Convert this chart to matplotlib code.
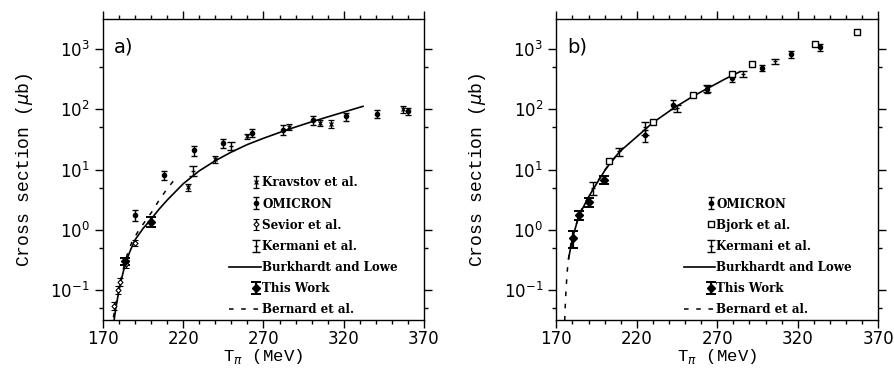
import numpy as np
import matplotlib
matplotlib.use("Agg")
import matplotlib.pyplot as plt
from matplotlib.ticker import FixedLocator, LogLocator, NullFormatter
from matplotlib.legend_handler import HandlerErrorbar
from matplotlib.container import ErrorbarContainer
from matplotlib.lines import Line2D

plt.rcParams.update({"font.size": 11, "axes.linewidth": 1.0})

# ---- panel a) data (T_pi in MeV, cross section in microbarn) ----
kravstov_a_x = [223, 240, 259.5, 286, 305, 312, 357]
kravstov_a_y = [5.1, 14.9, 36, 51, 59, 58, 100]
kravstov_a_err = [0.7, 2.0, 3.5, 5, 7, 9, 14]

omicron_a_x = [190, 208, 226.7, 245, 263, 282, 301, 321.4, 340.5, 360.2]
omicron_a_y = [1.76, 8.1, 21, 27.5, 40.5, 46, 66, 76, 84, 93]
omicron_a_err = [0.36, 1.5, 4, 5, 6, 8, 11, 12, 12, 14]

sevior_a_x = [177, 179.5, 180.5, 184.5, 190]
sevior_a_y = [0.055, 0.1, 0.135, 0.27, 0.6]
sevior_a_err = [0.008, 0.015, 0.02, 0.04, 0.07]

kermani_a_x = [226, 250]
kermani_a_y = [9.5, 24.8]
kermani_a_err = [1.8, 4.0]

thiswork_a_x = [184, 200]
thiswork_a_y = [0.30, 1.36]
thiswork_a_err = [0.045, 0.24]

burkhardt_a_x = [176.9, 178, 180, 182, 184, 187, 190, 195, 200, 205, 210, 220,
                 230, 240, 250, 260, 270, 285, 300, 315, 332]
burkhardt_a_y = [0.031, 0.05, 0.1, 0.17, 0.28, 0.45, 0.68, 1.05, 1.5, 2.2, 3.1, 5.8,
                 9.5, 14, 19.5, 26, 33, 46, 62, 82, 112]

bernard_a_x = [176.5, 179, 182, 185, 188, 192, 196, 200, 205, 210.5, 216.3]
bernard_a_y = [0.035, 0.08, 0.19, 0.38, 0.62, 0.95, 1.35, 1.9, 3.1, 5.0, 7.7]

# ---- panel b) data ----
omicron_b_x = [225, 242.7, 263.4, 279, 297.6, 315.6, 333.8]
omicron_b_y = [37, 120, 215, 325, 490, 815, 1070]
omicron_b_err = [8, 20, 30, 45, 60, 100, 130]

bjork_b_x = [202.9, 229.9, 254.7, 278.9, 291.7, 330.7, 356.6]
bjork_b_y = [13.8, 61, 170, 390, 570, 1230, 1950]

kermani_b_x = [193, 208.7, 225, 244.8, 263.4, 285.8, 305.8]
kermani_b_y = [4.9, 20, 50, 105, 225, 390, 630]
kermani_b_err = [1.2, 3, 12, 15, 30, 50, 60]

thiswork_b_x = [180.2, 183.9, 190.1, 199.8]
thiswork_b_y = [0.72, 1.76, 2.9, 6.7]
thiswork_b_err = [0.22, 0.3, 0.5, 1.0]

burkhardt_b_x = [177.6, 180, 184, 190, 195, 200, 205, 210, 220, 230, 243, 255,
                 265, 275, 284]
burkhardt_b_y = [0.33, 0.72, 1.7, 3.5, 5.8, 9.5, 14.5, 20.5, 35, 60, 105, 165,
                 230, 320, 420]

bernard_b_x = [175.2, 175.6, 176.2, 177, 178, 180, 185, 190, 200, 211.6]
bernard_b_y = [0.031, 0.06, 0.12, 0.24, 0.4, 0.8, 2.0, 3.6, 9.8, 23]

x_ticks = [170, 220, 270, 320, 370]


class RightErrorbar(HandlerErrorbar):
    """Put the error bar symbol at the right end of the handle box."""

    def get_xdata(self, legend, xdescent, ydescent, width, height, fontsize):
        xdata, _ = super().get_xdata(legend, xdescent, ydescent, width, height, fontsize)
        return xdata, [-xdescent + width - 0.35 * fontsize]


def eb(ax, x, y, err, **kw):
    style = dict(color="black", ecolor="black", linestyle="none", elinewidth=1.0,
                 capsize=2.2, capthick=1.0)
    style.update(kw)
    return ax.errorbar(x, y, yerr=err, **style)


def style_axes(ax, tag):
    ax.set_yscale("log")
    ax.set_xlim(170, 370)
    ax.set_ylim(10 ** -1.5, 10 ** 3.5)
    ax.xaxis.set_major_locator(FixedLocator(x_ticks))
    ax.xaxis.set_minor_locator(FixedLocator(np.arange(170, 371, 10)))
    ax.yaxis.set_major_locator(FixedLocator([0.1, 1, 10, 100, 1000]))
    ax.yaxis.set_minor_locator(LogLocator(base=10, subs=[5.0]))
    ax.yaxis.set_minor_formatter(NullFormatter())
    ax.tick_params(which="both", direction="out", top=True, right=True,
                   labelsize=12, width=1.0)
    ax.tick_params(which="major", length=6)
    ax.tick_params(which="minor", length=3)
    ax.tick_params(axis="x", pad=1.5)
    ax.set_xlabel(r"T$_\pi$ (MeV)", family="Liberation Mono", fontsize=12.5,
                  labelpad=-1)
    ax.set_ylabel(r"Cross section ($\mu$b)", family="Liberation Mono", fontsize=13,
                  labelpad=11)
    ax.text(0.035, 0.94, tag, transform=ax.transAxes, fontsize=14, va="top")


fig = plt.figure(figsize=(8.94, 3.68), dpi=100)
ax_a = fig.add_axes([0.1152, 0.1304, 0.359, 0.818])
ax_b = fig.add_axes([0.6223, 0.1304, 0.360, 0.818])

# panel a
h_kr = eb(ax_a, kravstov_a_x, kravstov_a_y, kravstov_a_err, marker="x", ms=3, mew=0.9)
h_om = eb(ax_a, omicron_a_x, omicron_a_y, omicron_a_err, marker="o", ms=3)
h_se = eb(ax_a, sevior_a_x, sevior_a_y, sevior_a_err, marker="D", ms=2.6, mfc="white",
          mew=0.8)
h_ke = eb(ax_a, kermani_a_x, kermani_a_y, kermani_a_err, marker="_", ms=3, mew=1.0,
          capsize=3)
ax_a.plot(burkhardt_a_x, burkhardt_a_y, color="black", lw=1.2)
h_tw = eb(ax_a, thiswork_a_x, thiswork_a_y, thiswork_a_err, marker="D", ms=4,
          elinewidth=1.6, capthick=1.4, capsize=3.5)
ax_a.plot(bernard_a_x, bernard_a_y, color="black", lw=1.1, linestyle=(0, (3, 5)))

line_bl = Line2D([], [], color="black", lw=1.2)
line_be = Line2D([], [], color="black", lw=1.1, linestyle=(0, (3, 5)))

leg_kw = dict(frameon=False, handlelength=2.6, handletextpad=0.15,
              labelspacing=0.68, borderaxespad=0.3,
              prop={"family": "DejaVu Serif", "weight": "bold", "size": 8.6},
              handler_map={ErrorbarContainer: RightErrorbar(numpoints=1)})

ax_a.legend([h_kr, h_om, h_se, h_ke, line_bl, h_tw, line_be],
            ["Kravstov et al.", "OMICRON", "Sevior et al.", "Kermani et al.",
             "Burkhardt and Lowe", "This Work", "Bernard et al."],
            loc="lower right", bbox_to_anchor=(0.945, -0.015), **leg_kw)
style_axes(ax_a, "a)")

# panel b
h_om_b = eb(ax_b, omicron_b_x, omicron_b_y, omicron_b_err, marker="o", ms=3)
h_bj_b = ax_b.errorbar(bjork_b_x, bjork_b_y, yerr=None, color="black", linestyle="none",
                       marker="s", ms=4.2, mfc="white", mew=1.0)
h_ke_b = eb(ax_b, kermani_b_x, kermani_b_y, kermani_b_err, marker="_", ms=3, mew=1.0,
            capsize=3)
ax_b.plot(burkhardt_b_x, burkhardt_b_y, color="black", lw=1.2)
h_tw_b = eb(ax_b, thiswork_b_x, thiswork_b_y, thiswork_b_err, marker="D", ms=4,
            elinewidth=1.6, capthick=1.4, capsize=3.5)
ax_b.plot(bernard_b_x, bernard_b_y, color="black", lw=1.1, linestyle=(0, (3, 5)))

ax_b.legend([h_om_b, h_bj_b, h_ke_b, line_bl, h_tw_b, line_be],
            ["OMICRON", "Bjork et al.", "Kermani et al.", "Burkhardt and Lowe",
             "This Work", "Bernard et al."],
            loc="lower right", bbox_to_anchor=(0.945, -0.015), **leg_kw)
style_axes(ax_b, "b)")

fig.savefig("out.png", dpi=100)
